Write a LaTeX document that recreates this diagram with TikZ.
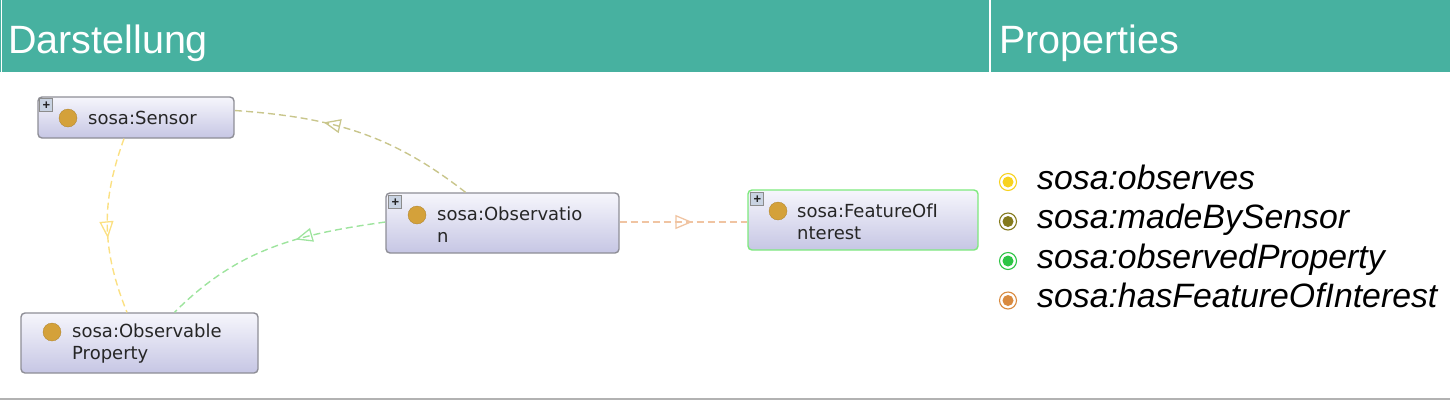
\documentclass[tikz,border=0pt]{standalone}
\usepackage{fontspec}
\setmainfont{Liberation Sans}
\newfontfamily\boxfont{DejaVu Sans}
\usepackage{xcolor}
\usepackage{tikz}
\usetikzlibrary{positioning,calc,decorations.markings,arrows.meta}

\definecolor{headteal}{HTML}{47B1A0}
\definecolor{boxgray}{HTML}{8E8E96}
\definecolor{boxtop}{HTML}{F6F6FC}
\definecolor{boxbottom}{HTML}{C6C6E4}
\definecolor{plusfill}{HTML}{C9D3E2}
\definecolor{classdotc}{HTML}{D4A13A}
\definecolor{observesc}{HTML}{F7D21E}
\definecolor{madebyc}{HTML}{847A1C}
\definecolor{obspropc}{HTML}{2DC445}
\definecolor{hasfoic}{HTML}{D98A3F}
\definecolor{observesl}{HTML}{FBE082}
\definecolor{madebyl}{HTML}{C9C68C}
\definecolor{obspropl}{HTML}{9EE49E}
\definecolor{hasfoil}{HTML}{F0C4A2}

\tikzset{
    classbox/.style={rectangle, rounded corners=4, draw=boxgray, line width=1.4,
        top color=boxtop, bottom color=boxbottom, inner sep=0},
    plusicon/.style={rectangle, draw=black!45, fill=plusfill, line width=0.7, minimum size=13,
        inner sep=0, font=\bfseries\fontsize{13}{13}\selectfont, text=black!85},
    classdot/.style={circle, fill=classdotc, draw=classdotc!80!black, line width=0.3,
        minimum size=18, inner sep=0},
    classlabel/.style={anchor=west, align=left, inner sep=0, text=black!85,
        font=\boxfont\fontsize{18}{22}\selectfont},
    propedge/.style 2 args={#1, dashed, dash pattern=on 7 off 4, line width=1.4,
        postaction={decorate}, decoration={markings,
        mark=at position #2 with {\arrow[solid, line width=1.3]{Triangle[open, length=17pt, width=14pt]}}}},
    legenddot/.style={circle, draw=#1, fill=white, line width=1.1, minimum size=17, inner sep=0,
        path picture={\fill[#1] (path picture bounding box.center) circle (5.5);}},
    legendlabel/.style={anchor=base west, inner sep=0, font=\itshape\fontsize{33.8}{33.8}\selectfont}
}

\begin{document}
\begin{tikzpicture}[x=1pt, y=1pt]
    \useasboundingbox (0,0) rectangle (1450,-400);
    % header
    \fill [headteal] (0,0) rectangle (1450,-72);
    \draw [white, line width=2] (990,0) -- (990,-72);
    \draw [white, line width=1] (1.5,0) -- (1.5,-72);
    \node [anchor=base west, inner sep=0, white, font=\fontsize{39.5}{39.5}\selectfont] (title) at (8,-53) {Darstellung};
    \node [anchor=base west, inner sep=0, white, font=\fontsize{39.5}{39.5}\selectfont] (proptitle) at (999,-53) {Properties};
    \draw [black!30, line width=2] (0,-399) -- (1450,-399);

    % classes
    \node [classbox, minimum width=196, minimum height=41] (sensor) at (136,-117.5) {};
    \node [plusicon] (sensorplus) at ([xshift=9,yshift=-9]sensor.north west) {+};
    \node [classdot] (sensordot) at (68,-118) {};
    \node [classlabel] (sensorlabel) at (88,-118) {sosa:Sensor};

    \node [classbox, minimum width=233, minimum height=60] (observation) at (502.5,-223) {};
    \node [plusicon] (observationplus) at ([xshift=10,yshift=-10]observation.north west) {+};
    \node [classdot] (observationdot) at (417,-215) {};
    \node [classlabel] (observationlabel) at (437,-225) {sosa:Observatio\\n};

    \node [classbox, draw=obspropl!80!green, minimum width=230, minimum height=60] (feature) at (863,-220) {};
    \node [plusicon] (featureplus) at ([xshift=10,yshift=-10]feature.north west) {+};
    \node [classdot] (featuredot) at (778,-211) {};
    \node [classlabel] (featurelabel) at (797,-222) {sosa:FeatureOfI\\nterest};

    \node [classbox, minimum width=237, minimum height=60] (obsprop) at (139.5,-343) {};
    \node [classdot] (obspropdot) at (52,-332) {};
    \node [classlabel] (obsproplabel) at (72,-344) {sosa:Observable\\Property};

    % object properties
    \draw [propedge={observesl}{0.57}] ([xshift=-12]sensor.south) to[bend right=21] ([xshift=-12.5]obsprop.north);
    \draw [propedge={madebyl}{0.64}] ([xshift=-37]observation.north) to[out=142, in=-4] ([yshift=7]sensor.east);
    \draw [propedge={obspropl}{0.39}] ([yshift=1]observation.west) to[out=188, in=45] ([xshift=35]obsprop.north);
    \draw [propedge={hasfoil}{0.57}] ([yshift=1]observation.east) -- ([yshift=1]observation.east -| feature.west);

    % legend
    \node [legenddot=observesc] (observesdot) at (1008,-182) {};
    \node [legendlabel] (observeslabel) at (1037,-189) {sosa:observes};
    \node [legenddot=madebyc] (madebydot) at (1008,-221.5) {};
    \node [legendlabel] (madebylabel) at (1037,-228.5) {sosa:madeBySensor};
    \node [legenddot=obspropc] (obspropdot2) at (1008,-261) {};
    \node [legendlabel] (obsproplabel2) at (1037,-268) {sosa:observedProperty};
    \node [legenddot=hasfoic] (hasfoidot) at (1008,-300.5) {};
    \node [legendlabel] (hasfoilabel) at (1037,-307.5) {sosa:hasFeatureOfInterest};
\end{tikzpicture}
\end{document}
